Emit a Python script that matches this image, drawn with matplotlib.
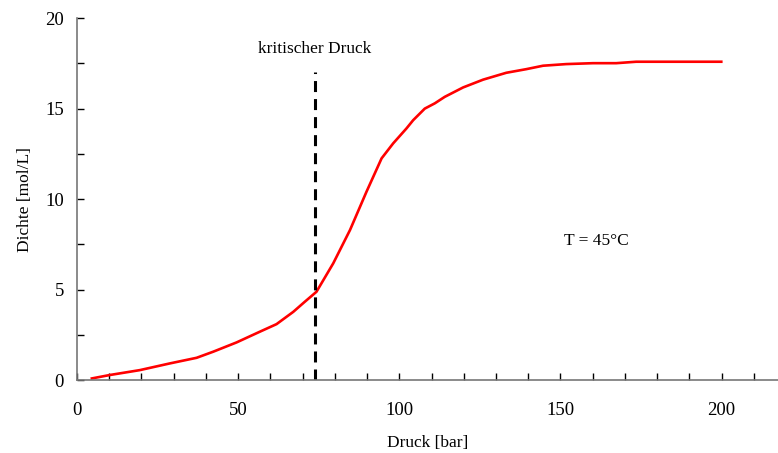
import matplotlib
matplotlib.use("Agg")
import matplotlib.pyplot as plt
from matplotlib.ticker import MultipleLocator

pressure = [4.6, 10.2, 19.5, 28.8, 37.1, 42.3, 49.5, 56.7, 61.9, 67.1, 70.5, 74.3, 79.5,
            84.7, 89.8, 94.5, 98.1, 102.2, 104.3, 107.9, 111.0, 114.1, 119.8, 126.0,
            133.2, 139.4, 144.6, 151.8, 160.1, 167.3, 173.5, 199.9]
density = [0.09, 0.28, 0.55, 0.92, 1.23, 1.57, 2.08, 2.67, 3.09, 3.77, 4.3, 4.88, 6.45,
           8.29, 10.4, 12.25, 13.08, 13.9, 14.36, 15.0, 15.29, 15.65, 16.17, 16.6,
           16.98, 17.18, 17.37, 17.46, 17.51, 17.51, 17.59, 17.59]
p_crit = 73.8
crit_top = 17.0
crit_label = "kritischer Druck"
temp_label = "T = 45°C"
x_major = [0, 50, 100, 150, 200]
y_major = [0, 5, 10, 15, 20]

plt.rcParams['font.family'] = ['Liberation Serif', 'DejaVu Serif']
plt.rcParams['font.size'] = 12.5

fig = plt.figure(figsize=(7.78, 4.53), dpi=100)
ax = fig.add_axes([0.099, 0.161, 0.901, 0.799])

ax.plot(pressure, density, color='#ff0000', lw=1.9, solid_joinstyle='round')
ax.plot([p_crit, p_crit], [0, crit_top], color='black', lw=2.2, dashes=(3.6, 2.3))

ax.text(p_crit, 18.3, crit_label, ha='center', va='center', fontsize=12.5)
ax.text(161, 7.7, temp_label, ha='center', va='center', fontsize=12.5)

ax.set_xlim(0, 217.5)
ax.set_ylim(0, 20)
ax.set_xticks(x_major)
ax.set_yticks(y_major)
ax.xaxis.set_minor_locator(MultipleLocator(10))
ax.yaxis.set_minor_locator(MultipleLocator(2.5))

for s in ['top', 'right']:
    ax.spines[s].set_visible(False)
for s in ['left', 'bottom']:
    ax.spines[s].set_color('#777777')
    ax.spines[s].set_linewidth(1.2)

ax.tick_params(axis='x', which='both', direction='in', length=5, width=1, color='black',
               pad=16, labelsize=13.5)
ax.tick_params(axis='y', which='both', direction='in', length=5, width=1, color='black',
               pad=9.5, labelsize=13.5)

ax.set_xlabel("Druck [bar]", fontsize=12.5, labelpad=11)
ax.set_ylabel("Dichte [mol/L]", fontsize=12.5, labelpad=9)

fig.savefig("out.png", dpi=100)
